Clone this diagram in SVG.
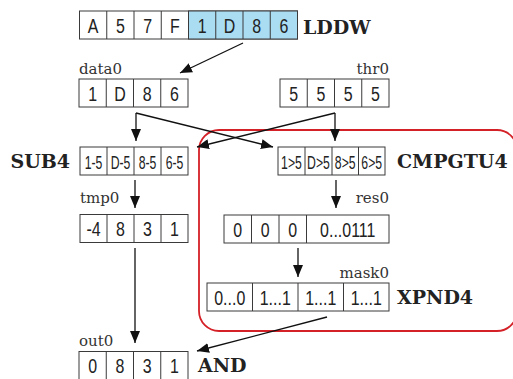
<svg xmlns="http://www.w3.org/2000/svg" width="513" height="379" viewBox="0 0 513 379">
  <style>
    .box { fill: #ffffff; stroke: #3a3a3a; stroke-width: 1; }
    .hi { fill: #aadcf2; stroke: #3a3a3a; stroke-width: 1; }
    .div { stroke: #3a3a3a; stroke-width: 1; }
    .cell { font-family: "Liberation Sans", Arial, sans-serif; font-size: 21px; fill: #222222; text-anchor: middle; }
    .small { font-size: 18px; }
    .name { font-family: "DejaVu Serif", serif; font-size: 15px; fill: #333333; }
    .op { font-family: "DejaVu Serif", serif; font-size: 19px; font-weight: bold; fill: #222222; }
    .wire { stroke: #111111; stroke-width: 1.3; fill: none; marker-end: url(#tip); }
    .scope { fill: none; stroke: #d42027; stroke-width: 1.8; }
  </style>
  <defs>
    <marker id="tip" markerUnits="userSpaceOnUse" markerWidth="12" markerHeight="10" refX="12" refY="5" orient="auto">
      <path d="M0,0 L12,5 L0,10 Z" fill="#111111"/>
    </marker>
  </defs>

  <!-- grouped compare / expand stage -->
  <rect class="scope" x="199" y="130" width="318" height="201" rx="20"/>

  <!-- LDDW source register (condensed cell text via horizontal scale) -->
  <g id="lddw">
    <rect class="box" x="79.5" y="11" width="218" height="28"/>
    <rect class="hi" x="188.5" y="11" width="109" height="28"/>
    <path class="div" d="M106.75,11V39M134,11V39M161.25,11V39M215.75,11V39M243,11V39M270.25,11V39"/>
    <text class="cell" transform="translate(93.1,33.3) scale(0.76,1)">A</text>
    <text class="cell" transform="translate(120.4,33.3) scale(0.76,1)">5</text>
    <text class="cell" transform="translate(147.6,33.3) scale(0.76,1)">7</text>
    <text class="cell" transform="translate(174.9,33.3) scale(0.76,1)">F</text>
    <text class="cell" transform="translate(202.1,33.3) scale(0.76,1)">1</text>
    <text class="cell" transform="translate(229.4,33.3) scale(0.76,1)">D</text>
    <text class="cell" transform="translate(256.6,33.3) scale(0.76,1)">8</text>
    <text class="cell" transform="translate(283.9,33.3) scale(0.76,1)">6</text>
    <text class="op" x="303" y="34">LDDW</text>
  </g>

  <!-- data0 -->
  <g id="data0">
    <text class="name" x="79" y="74">data0</text>
    <rect class="box" x="79" y="79" width="109" height="28"/>
    <path class="div" d="M106.25,79V107M133.5,79V107M160.75,79V107"/>
    <text class="cell" transform="translate(92.6,100.5) scale(0.76,1)">1</text>
    <text class="cell" transform="translate(119.9,100.5) scale(0.76,1)">D</text>
    <text class="cell" transform="translate(147.1,100.5) scale(0.76,1)">8</text>
    <text class="cell" transform="translate(174.4,100.5) scale(0.76,1)">6</text>
  </g>

  <!-- thr0 -->
  <g id="thr0">
    <text class="name" x="389" y="74" text-anchor="end">thr0</text>
    <rect class="box" x="280" y="79" width="109" height="28"/>
    <path class="div" d="M307.25,79V107M334.5,79V107M361.75,79V107"/>
    <text class="cell" transform="translate(293.6,100.5) scale(0.76,1)">5</text>
    <text class="cell" transform="translate(320.9,100.5) scale(0.76,1)">5</text>
    <text class="cell" transform="translate(348.1,100.5) scale(0.76,1)">5</text>
    <text class="cell" transform="translate(375.4,100.5) scale(0.76,1)">5</text>
  </g>

  <!-- SUB4 -->
  <g id="sub4">
    <text class="op" x="70" y="168" text-anchor="end">SUB4</text>
    <rect class="box" x="80" y="147" width="108" height="28"/>
    <path class="div" d="M107,147V175M134,147V175M161,147V175"/>
    <text class="cell small" transform="translate(93.5,168.5) scale(0.68,1)">1-5</text>
    <text class="cell small" transform="translate(120.5,168.5) scale(0.68,1)">D-5</text>
    <text class="cell small" transform="translate(147.5,168.5) scale(0.68,1)">8-5</text>
    <text class="cell small" transform="translate(174.5,168.5) scale(0.68,1)">6-5</text>
  </g>

  <!-- CMPGTU4 -->
  <g id="cmpgtu4">
    <rect class="box" x="278" y="147" width="107" height="28"/>
    <path class="div" d="M305,147V175M332,147V175M358.5,147V175"/>
    <text class="cell small" transform="translate(291.5,168.5) scale(0.68,1)">1&gt;5</text>
    <text class="cell small" transform="translate(318.5,168.5) scale(0.68,1)">D&gt;5</text>
    <text class="cell small" transform="translate(345.25,168.5) scale(0.68,1)">8&gt;5</text>
    <text class="cell small" transform="translate(371.75,168.5) scale(0.68,1)">6&gt;5</text>
    <text class="op" x="397" y="168">CMPGTU4</text>
  </g>

  <!-- tmp0 -->
  <g id="tmp0">
    <text class="name" x="80" y="203">tmp0</text>
    <rect class="box" x="80" y="214.5" width="108" height="28"/>
    <path class="div" d="M107,214.5V242.5M134,214.5V242.5M161,214.5V242.5"/>
    <text class="cell" transform="translate(93.5,236.2) scale(0.76,1)">-4</text>
    <text class="cell" transform="translate(120.5,236.2) scale(0.76,1)">8</text>
    <text class="cell" transform="translate(147.5,236.2) scale(0.76,1)">3</text>
    <text class="cell" transform="translate(174.5,236.2) scale(0.76,1)">1</text>
  </g>

  <!-- res0 -->
  <g id="res0">
    <text class="name" x="389" y="203" text-anchor="end">res0</text>
    <rect class="box" x="224" y="215" width="165" height="28"/>
    <path class="div" d="M251.5,215V243M279,215V243M306.5,215V243"/>
    <text class="cell" transform="translate(237.75,236.7) scale(0.76,1)">0</text>
    <text class="cell" transform="translate(265.25,236.7) scale(0.76,1)">0</text>
    <text class="cell" transform="translate(292.75,236.7) scale(0.76,1)">0</text>
    <text class="cell" transform="translate(347.75,236.7) scale(0.76,1)">0...0111</text>
  </g>

  <!-- mask0 -->
  <g id="mask0">
    <text class="name" x="389" y="278" text-anchor="end">mask0</text>
    <rect class="box" x="207" y="283" width="182" height="28"/>
    <path class="div" d="M252.5,283V311M298,283V311M343.5,283V311"/>
    <text class="cell" transform="translate(229.75,305.3) scale(0.76,1)">0...0</text>
    <text class="cell" transform="translate(275.25,305.3) scale(0.76,1)">1...1</text>
    <text class="cell" transform="translate(320.75,305.3) scale(0.76,1)">1...1</text>
    <text class="cell" transform="translate(366.25,305.3) scale(0.76,1)">1...1</text>
    <text class="op" x="397" y="304">XPND4</text>
  </g>

  <!-- out0 (box runs past the bottom edge) -->
  <g id="out0">
    <text class="name" x="79" y="346">out0</text>
    <rect class="box" x="79" y="351.5" width="109" height="30"/>
    <path class="div" d="M106.25,351.5V381M133.5,351.5V381M160.75,351.5V381"/>
    <text class="cell" transform="translate(92.6,372.5) scale(0.76,1)">0</text>
    <text class="cell" transform="translate(119.9,372.5) scale(0.76,1)">8</text>
    <text class="cell" transform="translate(147.1,372.5) scale(0.76,1)">3</text>
    <text class="cell" transform="translate(174.4,372.5) scale(0.76,1)">1</text>
    <text class="op" x="198" y="372">AND</text>
  </g>

  <!-- connectors -->
  <g id="connectors">
    <path class="wire" d="M243,43L180,73"/>
    <path class="wire" d="M136,113V141"/>
    <path class="wire" d="M136,113L273,147"/>
    <path class="wire" d="M335,113V141"/>
    <path class="wire" d="M335,113L197,147"/>
    <path class="wire" d="M135,180V208"/>
    <path class="wire" d="M336,180V208"/>
    <path class="wire" d="M298,248V277"/>
    <path class="wire" d="M135,248V343"/>
    <path class="wire" d="M327,317L197,351"/>
  </g>
</svg>
